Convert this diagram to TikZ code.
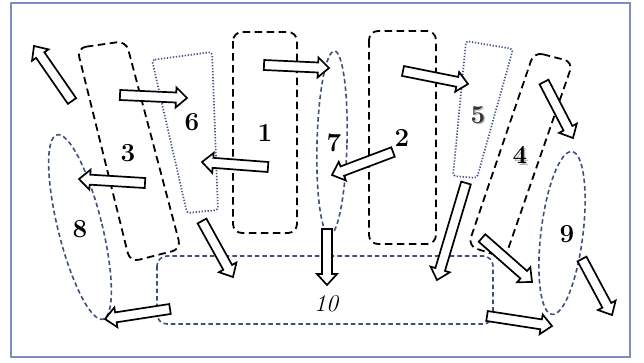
\documentclass[tikz,border=0pt]{standalone}
\usetikzlibrary{calc}
\definecolor{framec}{HTML}{7F8CC4}
\definecolor{blued}{HTML}{3F5080}
\definecolor{bluedot}{HTML}{44558C}
\tikzset{
  blackdash/.style={draw=black,line width=1.8pt,dash pattern=on 7.5pt off 4.5pt,rounded corners=9pt},
  bluedash/.style={draw=blued,line width=1.6pt,dash pattern=on 4.5pt off 3pt},
  bluedots/.style={draw=bluedot,line width=1.7pt,dash pattern=on 1.3pt off 1.7pt,rounded corners=3pt},
  blockarrow/.style={draw=black,fill=white,line width=1.7pt,line join=miter},
  num/.style={font=\fontsize{26}{26}\selectfont\bfseries,inner sep=0pt},
  numit/.style={font=\fontsize{24}{24}\selectfont\itshape,inner sep=0pt},
}
\newcommand\harrow[2]{%
  \coordinate (nk) at ($(#2)!11pt!(#1)$);
  \draw[blockarrow] ($(#1)!5pt!90:(#2)$) -- ($(nk)!5pt!90:(#2)$) -- ($(nk)!10pt!90:(#2)$)
    -- (#2) -- ($(nk)!10pt!-90:(#2)$) -- ($(nk)!5pt!-90:(#2)$) -- ($(#1)!5pt!-90:(#2)$) -- cycle;
}
\begin{document}
\begin{tikzpicture}[x=1pt,y=-1pt]
\useasboundingbox (0,0) rectangle (644,362);
\fill[white] (0,0) rectangle (644,362);
\draw[framec,line width=2.2pt] (11,3) rectangle (630,357);
% dashed black boxes
\draw[blackdash] (233,32) rectangle (297,233);
\draw[blackdash] (369,31) rectangle (436,244);
\draw[blackdash] (77,48) -- (126,41) -- (181,249) -- (130,262) -- cycle;
\draw[blackdash] (534,52) -- (573,62) -- (505,258) -- (468,246) -- cycle;
% dotted boxes
\draw[bluedots] (152,60) -- (212,52) -- (218,210) -- (187,213) -- cycle;
\draw[bluedots] (466,41) -- (513,49) -- (477,178) -- (453,176) -- cycle;
% ellipses
\draw[bluedash,rotate around={-1.5:(332,143)}] (332,143) ellipse [x radius=15pt,y radius=92pt];
\draw[bluedash,rotate around={14:(80,227)}] (80,227) ellipse [x radius=22pt,y radius=95pt];
\draw[bluedash,rotate around={-7:(562,233)}] (562,233) ellipse [x radius=21pt,y radius=82pt];
% box 10
\draw[bluedash,rounded corners=10pt] (157,256) rectangle (493,324);
% labels
\node[num] (l1) at (265,133) {1};
\node[num] (l2) at (402,138) {2};
\node[num] (l3) at (128,153) {3};
\node[num,gray!60] at (521.5,156.5) {4};
\node[num] (l4) at (520,155) {4};
\node[num,gray!50] at (479.5,116.5) {5};
\node[num,black!80] (l5) at (478,115) {5};
\node[num] (l6) at (192,122) {6};
\node[num] (l7) at (334,143) {7};
\node[num] (l8) at (80,229) {8};
\node[num] (l9) at (567,234) {9};
\node[numit] (l10) at (326,304) {10};
% arrow end points
\coordinate (a1t) at (72,101);  \coordinate (a1h) at (34,46);
\coordinate (a2t) at (120,95);  \coordinate (a2h) at (187,98);
\coordinate (a3t) at (264,65);  \coordinate (a3h) at (329,68);
\coordinate (a4t) at (268,167); \coordinate (a4h) at (202,162);
\coordinate (a5t) at (145,183); \coordinate (a5h) at (79,179);
\coordinate (a6t) at (393,152); \coordinate (a6h) at (332,175);
\coordinate (a7t) at (403,71);  \coordinate (a7h) at (468,84);
\coordinate (a8t) at (544,82);  \coordinate (a8h) at (573,138);
\coordinate (a9t) at (202,221); \coordinate (a9h) at (233,277);
\coordinate (a10t) at (327,229); \coordinate (a10h) at (327,285);
\coordinate (a11t) at (466,183); \coordinate (a11h) at (437,280);
\coordinate (a12t) at (482,238); \coordinate (a12h) at (532,282);
\coordinate (a13t) at (582,259); \coordinate (a13h) at (612,315);
\coordinate (a14t) at (487,316); \coordinate (a14h) at (552,326);
\coordinate (a15t) at (170,309); \coordinate (a15h) at (105,319);
\harrow{a1t}{a1h}
\harrow{a2t}{a2h}
\harrow{a3t}{a3h}
\harrow{a4t}{a4h}
\harrow{a5t}{a5h}
\harrow{a6t}{a6h}
\harrow{a7t}{a7h}
\harrow{a8t}{a8h}
\harrow{a9t}{a9h}
\harrow{a10t}{a10h}
\harrow{a11t}{a11h}
\harrow{a12t}{a12h}
\harrow{a13t}{a13h}
\harrow{a14t}{a14h}
\harrow{a15t}{a15h}
\end{tikzpicture}
\end{document}
